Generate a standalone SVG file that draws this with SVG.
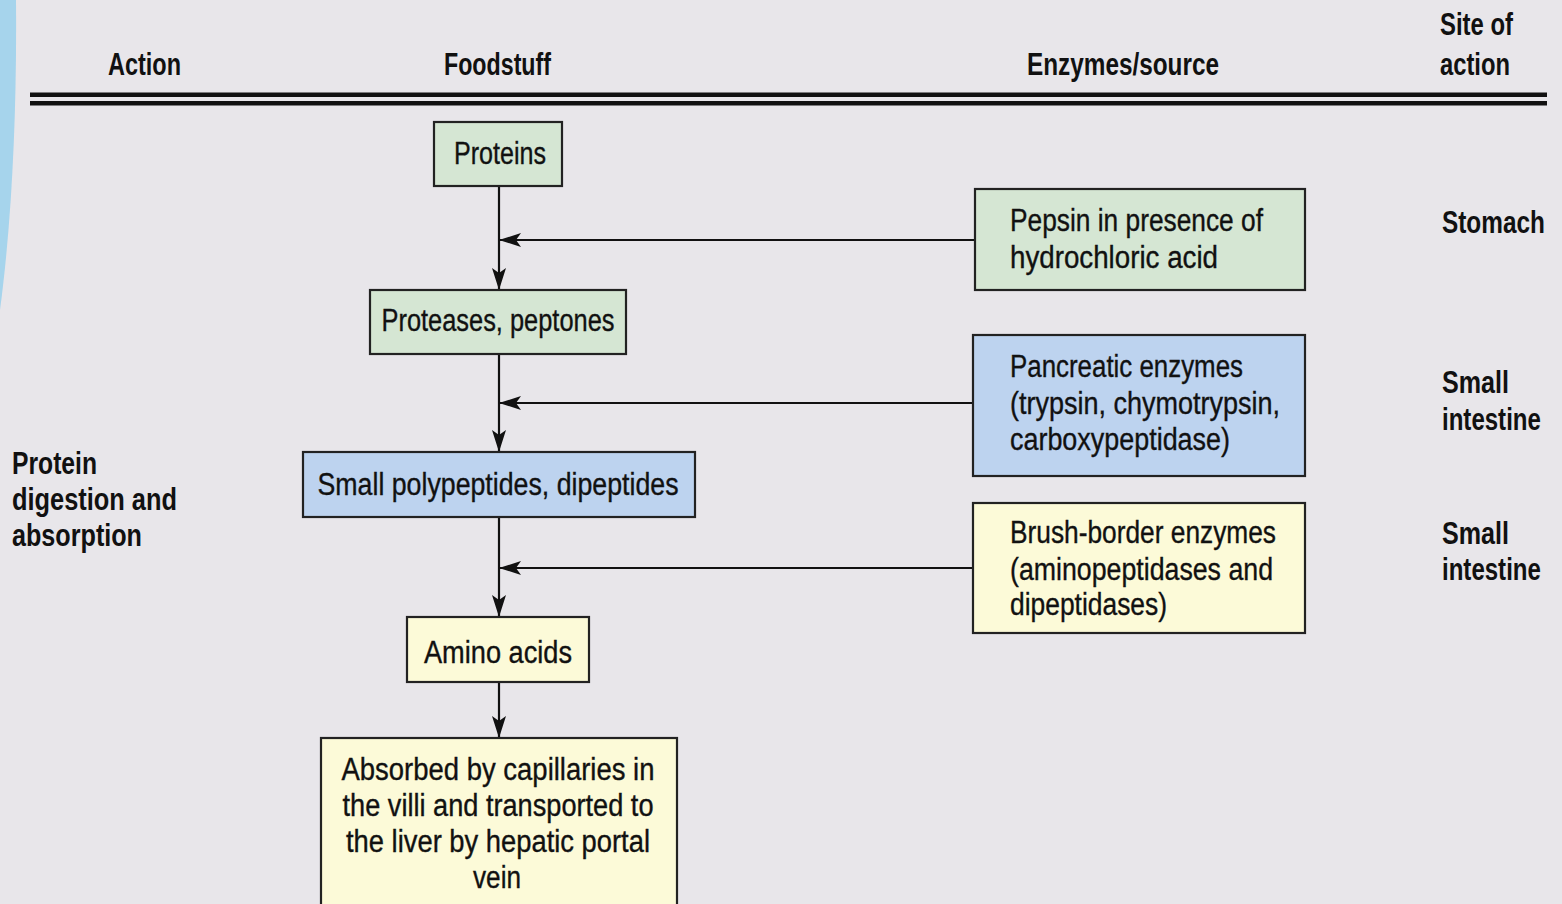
<svg xmlns="http://www.w3.org/2000/svg" width="1562" height="904" viewBox="0 0 1562 904">
<defs>
<style>
.t{font-family:"Liberation Sans","DejaVu Sans",sans-serif;font-size:31px;fill:#111;stroke:#111;stroke-width:0.35;}
.b{font-weight:bold;stroke-width:0;}
.m{text-anchor:middle;}
.box{stroke:#222;stroke-width:2.2;}
.g{fill:#D5E6D3;}
.bl{fill:#BDD3EF;}
.y{fill:#FCFAD8;}
.c{stroke:#111;stroke-width:2.2;fill:none;}
</style>
<marker id="ah" markerUnits="userSpaceOnUse" markerWidth="22" markerHeight="14" viewBox="0 0 22 14" refX="21" refY="7" orient="auto">
<path d="M0,0 L22,7 L0,14 L5,7 Z" fill="#111"/>
</marker>
</defs>
<rect width="1562" height="904" fill="#E8E6EA"/>
<path d="M0,0 L16,0 C17,110 12,220 0,310 Z" fill="#A6D4EC"/>
<g id="header">
<rect x="30" y="92.5" width="1517" height="4.5" fill="#111"/>
<rect x="30" y="101" width="1517" height="4.5" fill="#111"/>
<text class="t b" x="108" y="75" textLength="73" lengthAdjust="spacingAndGlyphs">Action</text>
<text class="t b" x="444" y="75" textLength="107" lengthAdjust="spacingAndGlyphs">Foodstuff</text>
<text class="t b" x="1027" y="75" textLength="192" lengthAdjust="spacingAndGlyphs">Enzymes/source</text>
<text class="t b" x="1440" y="35" textLength="73" lengthAdjust="spacingAndGlyphs">Site of</text>
<text class="t b" x="1440" y="75" textLength="70" lengthAdjust="spacingAndGlyphs">action</text>
</g>
<g id="labels">
<text class="t b" transform="translate(1442,233) scale(0.786,1)">Stomach</text>
<text class="t b" transform="translate(1442,393) scale(0.81,1)">Small</text>
<text class="t b" transform="translate(1442,430) scale(0.776,1)">intestine</text>
<text class="t b" transform="translate(1442,544) scale(0.81,1)">Small</text>
<text class="t b" transform="translate(1442,580) scale(0.776,1)">intestine</text>
<text class="t b" x="12" y="474" textLength="85" lengthAdjust="spacingAndGlyphs">Protein</text>
<text class="t b" x="12" y="510" textLength="165" lengthAdjust="spacingAndGlyphs">digestion and</text>
<text class="t b" x="12" y="546" textLength="130" lengthAdjust="spacingAndGlyphs">absorption</text>
</g>
<g id="connectors">
<line class="c" x1="499" y1="186" x2="499" y2="289" marker-end="url(#ah)"/>
<line class="c" x1="975" y1="240" x2="500" y2="240" marker-end="url(#ah)"/>
<line class="c" x1="499" y1="354" x2="499" y2="451" marker-end="url(#ah)"/>
<line class="c" x1="973" y1="403" x2="500" y2="403" marker-end="url(#ah)"/>
<line class="c" x1="499" y1="517" x2="499" y2="616" marker-end="url(#ah)"/>
<line class="c" x1="973" y1="568" x2="500" y2="568" marker-end="url(#ah)"/>
<line class="c" x1="499" y1="682" x2="499" y2="737" marker-end="url(#ah)"/>
</g>
<g id="proteins">
<rect class="box g" x="434" y="122" width="128" height="64"/>
<text class="t m" x="500" y="164" textLength="92" lengthAdjust="spacingAndGlyphs">Proteins</text>
</g>
<g id="pepsin">
<rect class="box g" x="975" y="189" width="330" height="101"/>
<text class="t" x="1010" y="231" textLength="253" lengthAdjust="spacingAndGlyphs">Pepsin in presence of</text>
<text class="t" x="1010" y="268" textLength="208" lengthAdjust="spacingAndGlyphs">hydrochloric acid</text>
</g>
<g id="proteases">
<rect class="box g" x="370" y="290" width="256" height="64"/>
<text class="t m" x="498" y="331" textLength="233" lengthAdjust="spacingAndGlyphs">Proteases, peptones</text>
</g>
<g id="pancreatic">
<rect class="box bl" x="973" y="335" width="332" height="141"/>
<text class="t" x="1010" y="377" textLength="233" lengthAdjust="spacingAndGlyphs">Pancreatic enzymes</text>
<text class="t" x="1010" y="414" textLength="270" lengthAdjust="spacingAndGlyphs">(trypsin, chymotrypsin,</text>
<text class="t" x="1010" y="450" textLength="220" lengthAdjust="spacingAndGlyphs">carboxypeptidase)</text>
</g>
<g id="polypeptides">
<rect class="box bl" x="303" y="452" width="392" height="65"/>
<text class="t m" x="498" y="495" textLength="361" lengthAdjust="spacingAndGlyphs">Small polypeptides, dipeptides</text>
</g>
<g id="brush">
<rect class="box y" x="973" y="503" width="332" height="130"/>
<text class="t" x="1010" y="543" textLength="266" lengthAdjust="spacingAndGlyphs">Brush-border enzymes</text>
<text class="t" x="1010" y="580" textLength="263" lengthAdjust="spacingAndGlyphs">(aminopeptidases and</text>
<text class="t" x="1010" y="615" textLength="157" lengthAdjust="spacingAndGlyphs">dipeptidases)</text>
</g>
<g id="amino">
<rect class="box y" x="407" y="617" width="182" height="65"/>
<text class="t m" x="498" y="663" textLength="148" lengthAdjust="spacingAndGlyphs">Amino acids</text>
</g>
<g id="absorbed">
<rect class="box y" x="321" y="738" width="356" height="180"/>
<text class="t m" x="498" y="780" textLength="313" lengthAdjust="spacingAndGlyphs">Absorbed by capillaries in</text>
<text class="t m" x="498" y="816" textLength="311" lengthAdjust="spacingAndGlyphs">the villi and transported to</text>
<text class="t m" x="498" y="852" textLength="304" lengthAdjust="spacingAndGlyphs">the liver by hepatic portal</text>
<text class="t m" x="497" y="888" textLength="48" lengthAdjust="spacingAndGlyphs">vein</text>
</g>
</svg>
